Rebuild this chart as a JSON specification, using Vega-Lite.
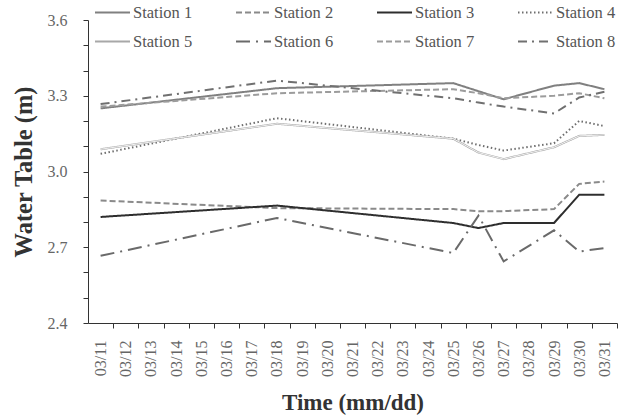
{
  "$schema": "https://vega.github.io/schema/vega-lite/v6.json",
  "width": 529,
  "height": 303,
  "autosize": {"type": "none"},
  "padding": {"left": 88, "top": 20, "right": 5, "bottom": 96},
  "background": "white",
  "config": {"view": {"stroke": null}, "font": "Times New Roman"},
  "data": {"values": [
    {"date":"03/11","station":"Station 1","value":3.25},
    {"date":"03/18","station":"Station 1","value":3.33},
    {"date":"03/25","station":"Station 1","value":3.35},
    {"date":"03/26","station":"Station 1","value":3.318},
    {"date":"03/27","station":"Station 1","value":3.286},
    {"date":"03/29","station":"Station 1","value":3.34},
    {"date":"03/30","station":"Station 1","value":3.35},
    {"date":"03/31","station":"Station 1","value":3.326},
    {"date":"03/11","station":"Station 2","value":2.885},
    {"date":"03/18","station":"Station 2","value":2.855},
    {"date":"03/25","station":"Station 2","value":2.851},
    {"date":"03/26","station":"Station 2","value":2.843},
    {"date":"03/27","station":"Station 2","value":2.843},
    {"date":"03/29","station":"Station 2","value":2.851},
    {"date":"03/30","station":"Station 2","value":2.951},
    {"date":"03/31","station":"Station 2","value":2.96},
    {"date":"03/11","station":"Station 3","value":2.82},
    {"date":"03/18","station":"Station 3","value":2.865},
    {"date":"03/25","station":"Station 3","value":2.796},
    {"date":"03/26","station":"Station 3","value":2.776},
    {"date":"03/27","station":"Station 3","value":2.796},
    {"date":"03/29","station":"Station 3","value":2.796},
    {"date":"03/30","station":"Station 3","value":2.908},
    {"date":"03/31","station":"Station 3","value":2.908},
    {"date":"03/11","station":"Station 4","value":3.07},
    {"date":"03/18","station":"Station 4","value":3.211},
    {"date":"03/25","station":"Station 4","value":3.13},
    {"date":"03/26","station":"Station 4","value":3.105},
    {"date":"03/27","station":"Station 4","value":3.083},
    {"date":"03/29","station":"Station 4","value":3.112},
    {"date":"03/30","station":"Station 4","value":3.2},
    {"date":"03/31","station":"Station 4","value":3.18},
    {"date":"03/11","station":"Station 5","value":3.088},
    {"date":"03/18","station":"Station 5","value":3.189},
    {"date":"03/25","station":"Station 5","value":3.13},
    {"date":"03/26","station":"Station 5","value":3.075},
    {"date":"03/27","station":"Station 5","value":3.049},
    {"date":"03/29","station":"Station 5","value":3.096},
    {"date":"03/30","station":"Station 5","value":3.141},
    {"date":"03/31","station":"Station 5","value":3.145},
    {"date":"03/11","station":"Station 6","value":2.666},
    {"date":"03/18","station":"Station 6","value":2.816},
    {"date":"03/25","station":"Station 6","value":2.677},
    {"date":"03/26","station":"Station 6","value":2.825},
    {"date":"03/27","station":"Station 6","value":2.644},
    {"date":"03/29","station":"Station 6","value":2.767},
    {"date":"03/30","station":"Station 6","value":2.683},
    {"date":"03/31","station":"Station 6","value":2.697},
    {"date":"03/11","station":"Station 7","value":3.257},
    {"date":"03/18","station":"Station 7","value":3.31},
    {"date":"03/25","station":"Station 7","value":3.326},
    {"date":"03/26","station":"Station 7","value":3.31},
    {"date":"03/27","station":"Station 7","value":3.29},
    {"date":"03/29","station":"Station 7","value":3.3},
    {"date":"03/30","station":"Station 7","value":3.31},
    {"date":"03/31","station":"Station 7","value":3.29},
    {"date":"03/11","station":"Station 8","value":3.267},
    {"date":"03/18","station":"Station 8","value":3.36},
    {"date":"03/25","station":"Station 8","value":3.29},
    {"date":"03/26","station":"Station 8","value":3.273},
    {"date":"03/27","station":"Station 8","value":3.257},
    {"date":"03/29","station":"Station 8","value":3.23},
    {"date":"03/30","station":"Station 8","value":3.293},
    {"date":"03/31","station":"Station 8","value":3.316}
  ]},
  "encoding": {
    "x": {
      "field": "date", "type": "ordinal",
      "scale": {"type": "point", "padding": 0.5,
        "domain": ["03/11","03/12","03/13","03/14","03/15","03/16","03/17","03/18","03/19","03/20","03/21","03/22","03/23","03/24","03/25","03/26","03/27","03/28","03/29","03/30","03/31"]},
      "axis": {
        "title": "Time (mm/dd)", "titleFont": "Times New Roman", "titleFontSize": 23, "titleFontWeight": "bold", "titleColor": "#333333", "titlePadding": 15,
        "labelAngle": 270, "labelFont": "Times New Roman", "labelFontSize": 16, "labelColor": "#666666", "labelPadding": 12,
        "tickOffset": 12.6, "labelOffset": -12.6, "tickSize": 5, "tickColor": "#333333", "domainColor": "#333333", "grid": false
      }
    },
    "y": {
      "field": "value", "type": "quantitative",
      "scale": {"domain": [2.4, 3.6], "nice": false, "zero": false},
      "axis": {
        "title": "Water Table (m)", "titleFont": "Times New Roman", "titleFontSize": 24.5, "titleFontWeight": "bold", "titleColor": "#333333", "titlePadding": 11,
        "values": [2.4,2.5,2.6,2.7,2.8,2.9,3.0,3.1,3.2,3.3,3.4,3.5,3.6],
        "labelExpr": "round(datum.value*10) % 3 == 0 ? format(datum.value, '.1f') : ''",
        "labelFont": "Times New Roman", "labelFontSize": 16, "labelColor": "#666666", "labelPadding": 16,
        "tickSize": 5, "tickColor": "#333333", "domainColor": "#333333", "grid": false
      }
    }
  },
  "layer": [
    {
      "mark": {"type": "line"},
      "encoding": {
        "color": {
          "field": "station", "type": "nominal",
          "scale": {"domain": ["Station 1","Station 2","Station 3","Station 4","Station 5","Station 6","Station 7","Station 8"],
                    "range": ["#808080","#8a8a8a","#2e2e2e","#6e6e6e","#a8a8a8","#6a6a6a","#9c9c9c","#707070"]},
          "legend": {
            "title": null, "orient": "none", "direction": "horizontal", "legendX": 6, "legendY": -26, "columns": 4, "columnPadding": 39, "rowPadding": 2,
            "symbolType": "stroke", "symbolSize": 1225, "labelOffset": 2,
            "labelFont": "Times New Roman", "labelFontSize": 16.5, "labelColor": "#555555"
          }
        },
        "strokeDash": {
          "field": "station", "type": "nominal",
          "scale": {"domain": ["Station 1","Station 2","Station 3","Station 4","Station 5","Station 6","Station 7","Station 8"],
                    "range": [[1,0],[6,3],[1,0],[1.5,2.5],[1,0],[14,6,2,6],[6,3],[9,5,2,5]]},
          "legend": null
        },
        "strokeWidth": {
          "field": "station", "type": "nominal",
          "scale": {"domain": ["Station 1","Station 2","Station 3","Station 4","Station 5","Station 6","Station 7","Station 8"],
                    "range": [2,2,2.2,2,3.2,2.5,2,2.5]},
          "legend": null
        }
      }
    },
    {
      "transform": [{"filter": "datum.station == 'Station 5'"}],
      "mark": {"type": "line", "stroke": "#f2f2f2", "strokeWidth": 1},
      "encoding": {}
    }
  ]
}
